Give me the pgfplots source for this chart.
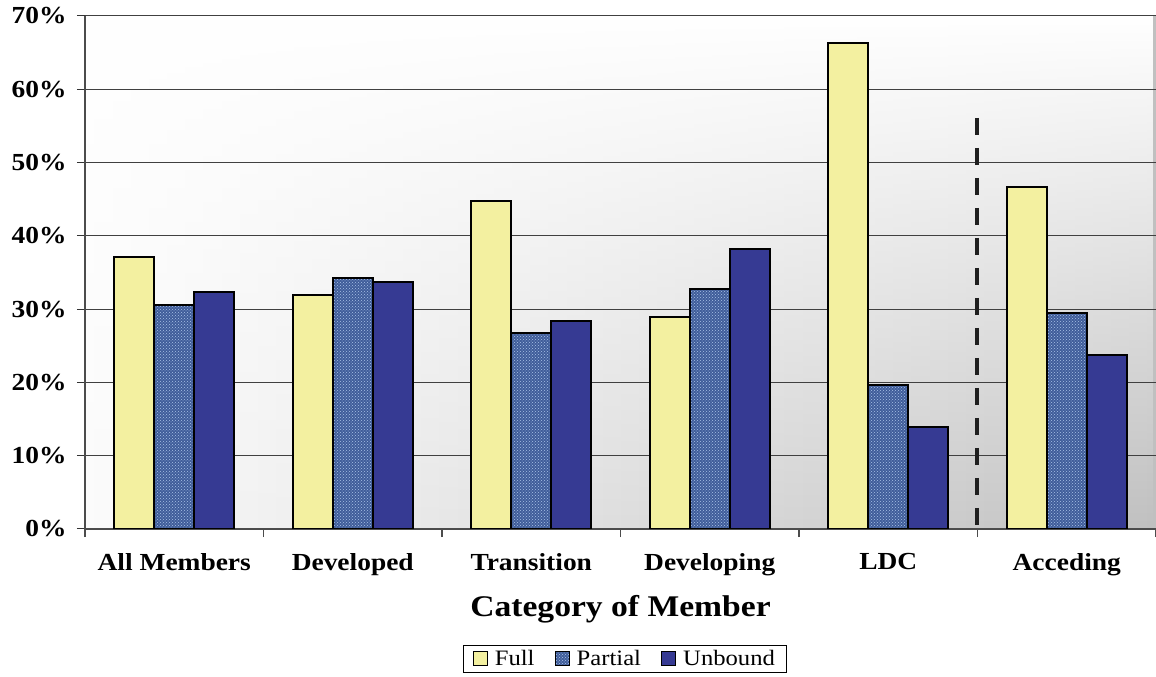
\documentclass[border=0pt]{standalone}
\usepackage{fontspec}
\setmainfont{Liberation Serif}[FakeStretch=1.12]
\usepackage{pgfplots}
\pgfplotsset{compat=1.18}
\usetikzlibrary{patterns,fadings}
\definecolor{fullc}{HTML}{F3F0A0}
\definecolor{partc}{HTML}{405D9A}
\definecolor{partl}{HTML}{A9C3E8}
\definecolor{unbc}{HTML}{363A93}
\definecolor{bgl}{HTML}{FBFBFB}
\definecolor{bgm}{HTML}{D9D9DB}
\definecolor{bgr}{HTML}{C0C0C0}
\begin{document}
\begin{tikzpicture}
\useasboundingbox (0,0) rectangle (1156pt,677pt);
\shade[left color=bgl, middle color=bgm, right color=bgr] (85pt,148pt) rectangle (1156pt,661pt);
\fill[white, path fading=south] (85pt,148pt) rectangle (1156pt,661pt);
\begin{axis}[
  at={(85pt,148pt)}, anchor=south west,
  width=1071pt, height=513pt, scale only axis,
  xmin=-0.5, xmax=5.5, ymin=0, ymax=70,
  ybar=0pt, bar width=0.224,
  axis x line*=bottom, axis y line*=left,
  axis line style={black!70, line width=1.2pt},
  xtick={0,...,5},
  xticklabels={All Members,Developed,Transition,Developing,LDC,Acceding},
  minor xtick={-0.5,0.5,...,5.5},
  major x tick style={draw=none},
  minor x tick style={black!70, line width=1.2pt},
  ytick={0,10,...,70},
  yticklabel={\pgfmathprintnumber{\tick}\%},
  /pgf/number format/assume math mode=true,
  tick align=outside,
  major tick length=8pt, minor tick length=8pt,
  y tick style={black!80, line width=1pt},
  ymajorgrids, major grid style={black!75, line width=1pt},
  tick label style={font=\fontsize{24.5}{26}\selectfont\bfseries},
  xticklabel style={yshift=-13pt},
  yticklabel style={xshift=-7pt},
  xlabel={Category of Member},
  every axis x label/.style={at={(axis description cs:0.5,-0.157)}, anchor=center, font=\fontsize{30}{34}\selectfont\bfseries},
  legend columns=3,
  legend style={at={(axis description cs:0.504,-0.226)}, anchor=north, draw=black, line width=0.8pt, fill=white,
    font=\fontsize{22}{24}\selectfont, inner xsep=9pt, inner ysep=3pt,
    /tikz/every even column/.append style={column sep=18pt},
    /tikz/every odd column/.append style={column sep=5pt}},
  legend image code/.code={\draw[#1, draw=black, line width=1.2pt] (0pt,-7pt) rectangle (14pt,7pt);},
]
\addplot[draw=black, line width=2pt, fill=fullc] coordinates {(0,37.1) (1,31.9) (2,44.8) (3,28.9) (4,66.3) (5,46.6)};
\addplot[draw=black, line width=2pt, fill=partc, postaction={pattern=crosshatch dots, pattern color=partl}] coordinates {(0,30.6) (1,34.2) (2,26.7) (3,32.7) (4,19.6) (5,29.5)};
\addplot[draw=black, line width=2pt, fill=unbc] coordinates {(0,32.3) (1,33.7) (2,28.4) (3,38.2) (4,13.9) (5,23.7)};
\legend{Full,Partial,Unbound}
\addplot[sharp plot, forget plot, draw=black!88, line width=4pt, dash pattern=on 17pt off 13pt] coordinates {(4.5,56.1) (4.5,0)};
\end{axis}
\end{tikzpicture}
\end{document}
